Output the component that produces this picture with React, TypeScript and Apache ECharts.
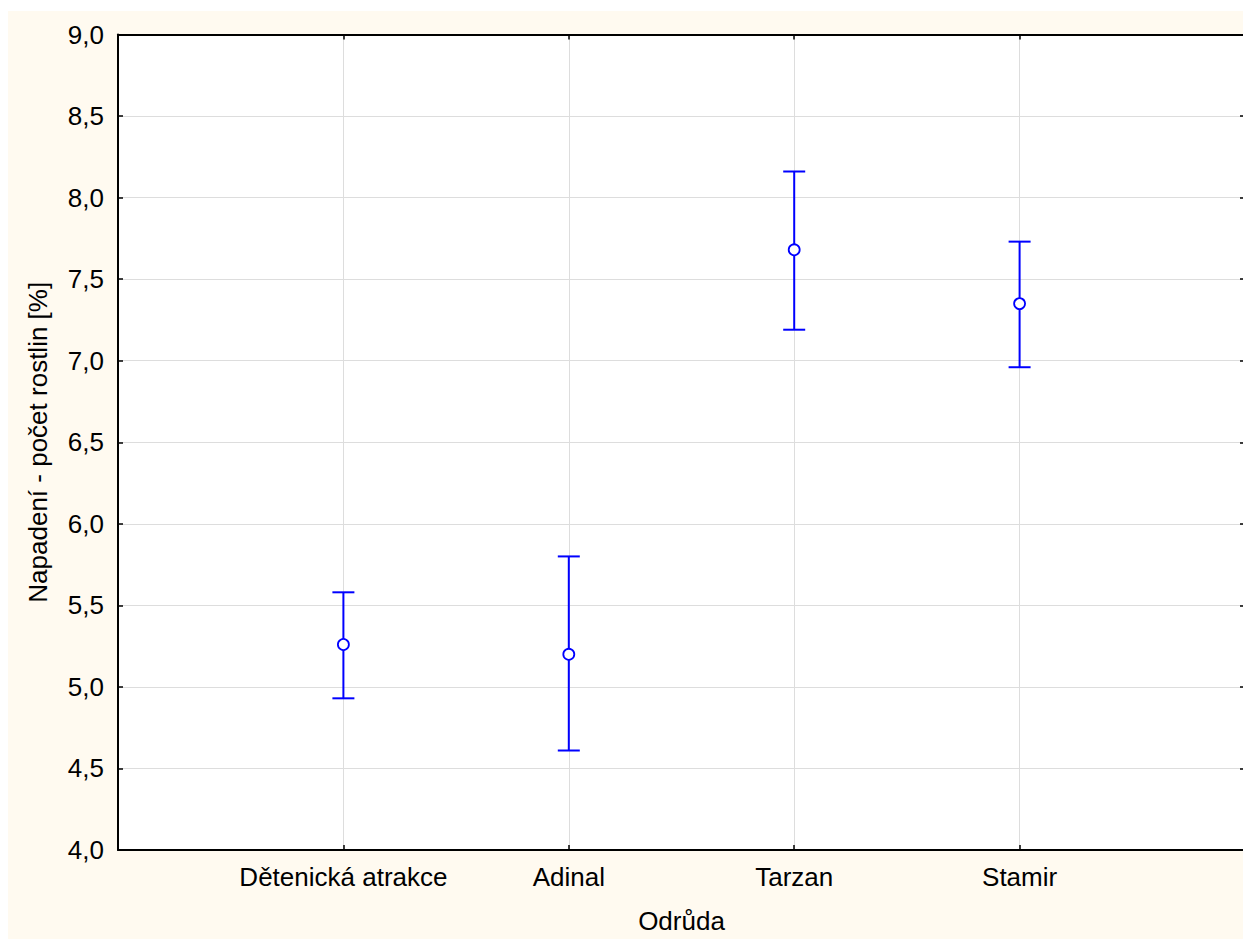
import React, { useEffect, useRef } from "react";
import * as echarts from "echarts";

const categories = ["", "Dětenická atrakce", "Adinal", "Tarzan", "Stamir", ""];
const groups = ["Dětenická atrakce", "Adinal", "Tarzan", "Stamir"];
const means = [5.26, 5.2, 7.68, 7.35];
const lower = [4.93, 4.61, 7.19, 6.96];
const upper = [5.58, 5.8, 8.16, 7.73];
const yTicks = { min: 4, max: 9, interval: 0.5 };
const xName = "Odrůda";
const yName = "Napadení - počet rostlin [%]";

const FONT = "'Liberation Sans', Arial, sans-serif";
const BLUE = "#0000FF";

export default function App() {
  const ref = useRef<HTMLDivElement>(null);
  useEffect(() => {
    if (!ref.current) return;
    const chart = echarts.init(ref.current, undefined, { renderer: "svg" });
    const fmt = (v: number) => v.toFixed(1).replace(".", ",");
    const errData = groups.map((g, i) => [g, lower[i], upper[i]]);
    const meanData = groups.map((g, i) => [g, means[i]]);
    chart.setOption({
      animation: false,
      backgroundColor: "#FFFAF0",
      textStyle: { fontFamily: FONT },
      grid: {
        left: 110,
        top: 23.5,
        right: 0,
        bottom: 89,
        show: true,
        backgroundColor: "#ffffff",
        borderWidth: 0,
      },
      xAxis: [
        {
          type: "category",
          data: categories,
          boundaryGap: false,
          position: "bottom",
          name: xName,
          nameLocation: "middle",
          nameGap: 58,
          nameTextStyle: { color: "#000", fontSize: 26, fontFamily: FONT },
          axisLine: { show: true, lineStyle: { color: "#000", width: 2 } },
          axisTick: { show: true, inside: true, length: 5, lineStyle: { color: "#000", width: 1.5 } },
          axisLabel: { color: "#000", fontSize: 26, margin: 14, interval: 0, fontFamily: FONT },
          splitLine: { show: true, lineStyle: { color: "#DDDDDD", width: 1 } },
        },
        {
          type: "category",
          data: categories,
          boundaryGap: false,
          position: "top",
          axisLine: { show: true, lineStyle: { color: "#000", width: 2 } },
          axisTick: { show: true, inside: true, length: 5, lineStyle: { color: "#000", width: 1.5 } },
          axisLabel: { show: false },
          splitLine: { show: false },
        },
      ],
      yAxis: [
        {
          type: "value",
          min: yTicks.min,
          max: yTicks.max,
          interval: yTicks.interval,
          position: "left",
          name: yName,
          nameLocation: "middle",
          nameGap: 67,
          nameRotate: 90,
          nameTextStyle: { color: "#000", fontSize: 26, fontFamily: FONT },
          axisLine: { show: true, lineStyle: { color: "#000", width: 2 } },
          axisTick: { show: true, inside: true, length: 5, lineStyle: { color: "#000", width: 1.5 } },
          axisLabel: { color: "#000", fontSize: 26, margin: 14, formatter: fmt, fontFamily: FONT },
          splitLine: { show: true, lineStyle: { color: "#DDDDDD", width: 1 } },
        },
        {
          type: "value",
          min: yTicks.min,
          max: yTicks.max,
          interval: yTicks.interval,
          position: "right",
          axisLine: { show: false },
          axisTick: { show: true, inside: true, length: 5, lineStyle: { color: "#000", width: 1.5 } },
          axisLabel: { show: false },
          splitLine: { show: false },
        },
      ],
      series: [
        {
          type: "custom",
          xAxisIndex: 0,
          yAxisIndex: 0,
          data: errData,
          renderItem: (params: any, api: any) => {
            const x = api.value(0);
            const lo = api.coord([x, api.value(1)]);
            const hi = api.coord([x, api.value(2)]);
            const hw = 11;
            const style = { stroke: BLUE, lineWidth: 2, fill: "none" };
            return {
              type: "group",
              children: [
                { type: "line", shape: { x1: lo[0], y1: lo[1], x2: hi[0], y2: hi[1] }, style },
                { type: "line", shape: { x1: lo[0] - hw, y1: lo[1], x2: lo[0] + hw, y2: lo[1] }, style },
                { type: "line", shape: { x1: hi[0] - hw, y1: hi[1], x2: hi[0] + hw, y2: hi[1] }, style },
              ],
            };
          },
          z: 2,
        },
        {
          type: "scatter",
          xAxisIndex: 0,
          yAxisIndex: 0,
          data: meanData,
          symbol: "circle",
          symbolSize: 11,
          itemStyle: { color: "#ffffff", borderColor: BLUE, borderWidth: 1.8, opacity: 1 },
          z: 3,
        },
      ],
    });
    return () => chart.dispose();
  }, []);
  return (
    <div
      ref={ref}
      style={{ position: "fixed", left: 8, top: 11, width: 1240, height: 928 }}
    />
  );
}
